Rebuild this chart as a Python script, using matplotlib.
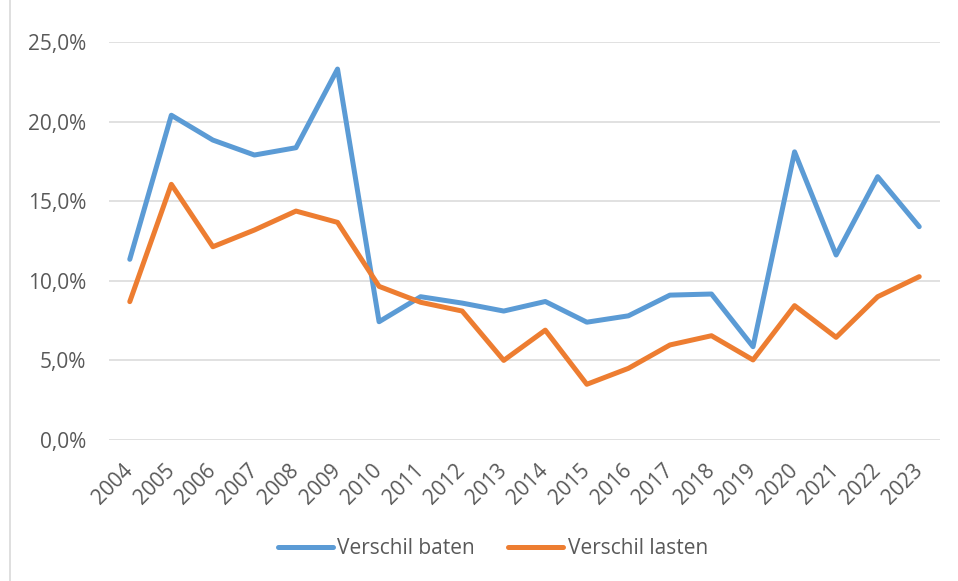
import matplotlib
matplotlib.use("Agg")
import matplotlib.pyplot as plt
from matplotlib.ticker import FuncFormatter
from matplotlib.lines import Line2D

years = [str(y) for y in range(2004, 2024)]
verschil_baten = [11.35, 20.4, 18.84, 17.9, 18.36, 23.3, 7.43, 9.0, 8.6, 8.1,
                  8.7, 7.4, 7.8, 9.1, 9.17, 5.86, 18.1, 11.62, 16.54, 13.4]
verschil_lasten = [8.69, 16.06, 12.14, 13.19, 14.38, 13.67, 9.65, 8.65, 8.1, 5.0,
                   6.9, 3.5, 4.5, 5.97, 6.55, 5.03, 8.44, 6.45, 9.0, 10.26]
series_names = ["Verschil baten", "Verschil lasten"]
colors = ["#5b9bd5", "#ed7d31"]
y_ticks = [0, 5, 10, 15, 20, 25]

plt.rcParams['font.family'] = ['Open Sans', 'DejaVu Sans']
text_color = "#595959"
fs = 15

fig = plt.figure(figsize=(9.58, 5.81), dpi=100)
ax = fig.add_axes([109/958, 141/581, (940-109)/958, (440-42)/581])

x = list(range(len(years)))
for vals, c, n in zip([verschil_baten, verschil_lasten], colors, series_names):
    ax.plot(x, vals, color=c, lw=3.6, solid_joinstyle='round', solid_capstyle='round', label=n, zorder=3)

ax.set_xlim(-0.5, len(years) - 0.5)
ax.set_ylim(0, 25)
ax.set_yticks(y_ticks)
ax.yaxis.set_major_formatter(FuncFormatter(lambda v, p: f"{v:.1f}%".replace('.', ',')))
ax.grid(axis='y', color='#d9d9d9', lw=1.1, zorder=0)
for s in ax.spines.values():
    s.set_visible(False)
ax.tick_params(axis='both', length=0, labelsize=fs, labelcolor=text_color)
ax.tick_params(axis='y', pad=16.5)
ax.set_xticks(x)
ax.set_xticklabels(years, rotation=45, ha='right', va='center', rotation_mode='anchor')
ax.tick_params(axis='x', pad=20)

handles = [Line2D([0], [0], color=c, lw=3.6, solid_capstyle='round') for c in colors]
fig.legend(handles, series_names, loc='center', bbox_to_anchor=(493/958, 1 - 549/581),
           ncol=2, frameon=False, fontsize=fs, labelcolor=text_color,
           handlelength=2.64, handletextpad=0.2, columnspacing=1.6)

fig.add_artist(Line2D([10/958, 10/958], [0, 1], color='#d9d9d9', lw=1.2, transform=fig.transFigure))

fig.savefig("out.png", dpi=100)
